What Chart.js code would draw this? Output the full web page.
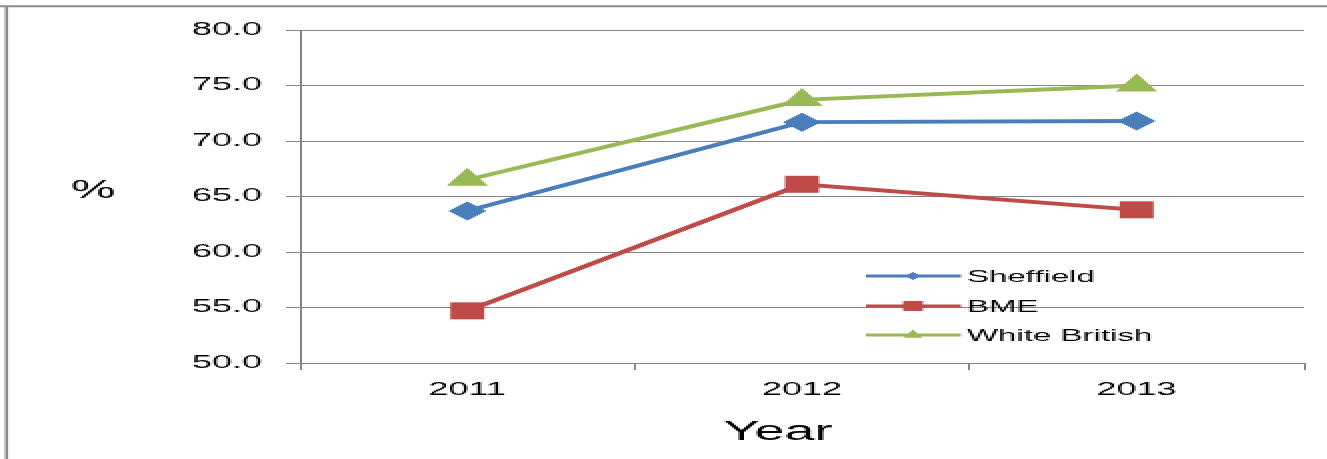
<!DOCTYPE html>
<html>
<head>
<meta charset="utf-8">
<script src="https://cdn.jsdelivr.net/npm/chart.js@4/dist/chart.umd.min.js"></script>
<style>
  html, body { margin: 0; padding: 0; background: #fff; overflow: hidden; }
  #wrap { width: 1327px; height: 459px; overflow: hidden; }
  /* chart is drawn at half width and stretched sideways */
  #chart { display: block; transform: scaleX(2); transform-origin: 0 0; image-rendering: pixelated; }
</style>
</head>
<body>
<div id="wrap"><canvas id="chart" width="664" height="459"></canvas></div>
<script>
// satisfaction by year, %
const years = ['2011', '2012', '2013'];
const sheffield = [63.7, 71.7, 71.8];
const bme = [54.7, 66.1, 63.8];
const whiteBritish = [66.5, 73.7, 75.0];
const seriesNames = ['Sheffield', 'BME', 'White British'];

const GRID = '#868686';
const FONT = '"Liberation Sans", Arial, sans-serif';

// grey frame on the top and left edges
const framePlugin = {
  id: 'frame',
  beforeDraw(chart) {
    const ctx = chart.ctx;
    ctx.save();
    ctx.strokeStyle = '#8a8a8a';
    ctx.lineWidth = 2;
    ctx.beginPath();
    ctx.moveTo(0, 6.2);
    ctx.lineTo(chart.width, 6.2);
    ctx.stroke();
    ctx.lineWidth = 1.6;
    ctx.beginPath();
    ctx.moveTo(3.3, 6);
    ctx.lineTo(3.3, chart.height);
    ctx.stroke();
    ctx.restore();
  }
};

// axis titles: "%" sits level, not rotated
const titlesPlugin = {
  id: 'titles',
  afterDraw(chart) {
    const ctx = chart.ctx;
    ctx.save();
    ctx.fillStyle = '#000';
    ctx.textAlign = 'center';
    ctx.textBaseline = 'middle';
    ctx.font = '25px ' + FONT;
    ctx.fillText('%', 46.5, 191);
    ctx.font = '27px ' + FONT;
    ctx.fillText('Year', 389, 433);
    ctx.restore();
  }
};

// legend inside the plot: line sample with a small marker in the middle
const legendPlugin = {
  id: 'innerLegend',
  afterDatasetsDraw(chart) {
    const ctx = chart.ctx;
    const rows = [276, 306, 335];
    const x0 = 433, x1 = 480.5, xm = 456.5;
    const radii = [4, 7, 5.5];
    ctx.save();
    chart.data.datasets.forEach((ds, i) => {
      const y = rows[i];
      ctx.strokeStyle = ds.borderColor;
      ctx.lineWidth = 3;
      ctx.beginPath();
      ctx.moveTo(x0, y);
      ctx.lineTo(x1, y);
      ctx.stroke();
      ctx.fillStyle = ds.borderColor;
      Chart.helpers.drawPoint(ctx, { pointStyle: ds.pointStyle, radius: radii[i], rotation: 0, borderWidth: 0 }, xm, y);
      ctx.fillStyle = '#000';
      ctx.font = '16.5px ' + FONT;
      ctx.textAlign = 'left';
      ctx.textBaseline = 'middle';
      ctx.fillText(ds.label, 483.5, y + 1);
    });
    ctx.restore();
  }
};

function lineSet(label, data, color, style, radius) {
  return {
    label,
    data,
    borderColor: color,
    backgroundColor: color,
    borderWidth: 3.8,
    tension: 0,
    pointStyle: style,
    pointRadius: radius,
    pointHoverRadius: radius,
    pointBorderWidth: 0,
    pointBackgroundColor: color
  };
}

new Chart(document.getElementById('chart'), {
  type: 'line',
  data: {
    labels: years,
    datasets: [
      lineSet(seriesNames[0], sheffield, '#4a7ebb', 'rectRot', 9.5),
      lineSet(seriesNames[1], bme, '#be4b48', 'rect', 12),
      lineSet(seriesNames[2], whiteBritish, '#98b954', 'triangle', 12)
    ]
  },
  options: {
    responsive: false,
    animation: false,
    devicePixelRatio: 1,
    layout: { padding: { left: 0, top: 30, right: 12, bottom: 0 } },
    plugins: { legend: { display: false }, tooltip: { enabled: false } },
    scales: {
      x: {
        offset: true,
        grid: { offset: true, drawOnChartArea: false, drawTicks: true, tickLength: 7, color: GRID, lineWidth: 1 },
        border: { display: true, color: GRID, width: 1 },
        ticks: { color: '#000', padding: 9, font: { family: FONT, size: 18 } },
        afterFit(scale) { scale.height = 96; }
      },
      y: {
        min: 50,
        max: 80,
        grid: { color: GRID, lineWidth: 1, tickLength: 7 },
        border: { display: true, color: GRID, width: 1 },
        ticks: {
          stepSize: 5,
          color: '#000',
          padding: 12,
          font: { family: FONT, size: 18 },
          callback: (v) => Number(v).toFixed(1)
        },
        afterFit(scale) { scale.width = 150; }
      }
    }
  },
  plugins: [framePlugin, titlesPlugin, legendPlugin]
});
</script>
</body>
</html>
